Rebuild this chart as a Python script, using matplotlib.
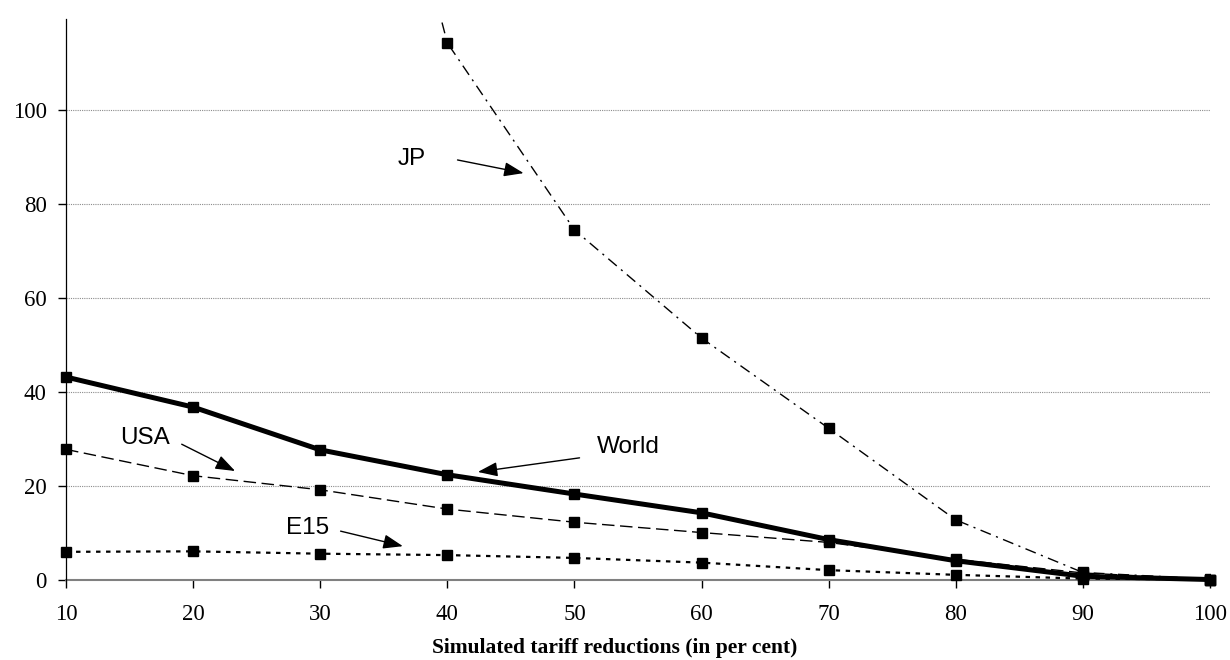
import numpy as np
import matplotlib
matplotlib.use("Agg")
import matplotlib.pyplot as plt

# Simulated tariff reductions (in per cent)
reductions = [10, 20, 30, 40, 50, 60, 70, 80, 90, 100]

# values
world = [43.2, 36.8, 27.7, 22.4, 18.3, 14.3, 8.6, 4.1, 0.8, 0.1]
usa = [27.8, 22.2, 19.2, 15.1, 12.3, 10.1, 8.0, 4.4, 1.5, 0.1]
e15 = [6.0, 6.1, 5.6, 5.3, 4.7, 3.7, 2.1, 1.1, 0.3, 0.1]
jp = [np.nan, np.nan, 218.0, 114.3, 74.5, 51.5, 32.3, 12.8, 1.6, 0.2]  # 30 lies off the top

y_ticks = [0, 20, 40, 60, 80, 100]

serif = "Liberation Serif"
sans = "Liberation Sans"

fig = plt.figure(figsize=(12.3, 6.6), dpi=100)
ax = fig.add_axes([0.0537, 0.1212, 0.93, 0.8500])

# gridlines
for yv in y_ticks[1:]:
    ax.axhline(yv, color="#8c8c8c", lw=0.8, ls=(0, (1, 1)), zorder=1)

mk = dict(marker="s", markersize=6.8, markerfacecolor="black", markeredgecolor="black")

ax.plot(reductions, jp, color="black", lw=1.0, ls=(0, (8, 4, 1.5, 4)), zorder=3, **mk)
ax.plot(reductions, e15, color="black", lw=1.6, ls=(0, (2, 2.5)), clip_on=False, zorder=4, **mk)
ax.plot(reductions, usa, color="black", lw=1.0, ls=(0, (9, 4)), clip_on=False, zorder=5, **mk)
ax.plot(reductions, world, color="black", lw=3.6, clip_on=False, zorder=6, **mk)

ax.set_xlim(10, 100)
ax.set_ylim(0, 119.4)
ax.set_xticks(reductions)
ax.set_yticks(y_ticks)

ax.spines["top"].set_visible(False)
ax.spines["right"].set_visible(False)
ax.spines["left"].set_color("black")
ax.spines["left"].set_linewidth(0.9)
ax.spines["bottom"].set_color("#808080")
ax.spines["bottom"].set_linewidth(1.5)
ax.spines["bottom"].set_zorder(2)

ax.tick_params(axis="x", direction="out", length=6, width=1.0, color="black", pad=11)
ax.tick_params(axis="y", direction="out", length=6, width=1.0, color="black", pad=8)
for lbl in ax.get_xticklabels() + ax.get_yticklabels():
    lbl.set_fontfamily(serif)
    lbl.set_fontsize(16.5)

ax.set_xlabel("Simulated tariff reductions (in per cent)", fontfamily=serif,
              fontsize=15.5, fontweight="bold")
ax.xaxis.set_label_coords(0.48, -0.103)

# labels with arrows
arrow = dict(arrowstyle="-|>,head_length=0.6,head_width=0.22", color="black", lw=1.0,
             shrinkA=0, shrinkB=0, mutation_scale=20)
notes = [
    ("JP", (37.2, 89.6), (40.8, 89.4), (46.0, 86.6)),
    ("USA", (16.2, 30.2), (19.1, 28.9), (23.3, 23.2)),
    ("World", (54.2, 28.3), (50.4, 26.0), (42.4, 23.0)),
    ("E15", (29.0, 11.0), (31.6, 10.4), (36.5, 7.2)),
]
for name, txt_pos, tail, head in notes:
    ax.text(txt_pos[0], txt_pos[1], name, fontfamily=sans, fontsize=17.5,
            ha="center", va="center", zorder=7)
    ax.annotate("", xy=head, xytext=tail, arrowprops=arrow, zorder=7)

fig.savefig("out.png", dpi=100)
